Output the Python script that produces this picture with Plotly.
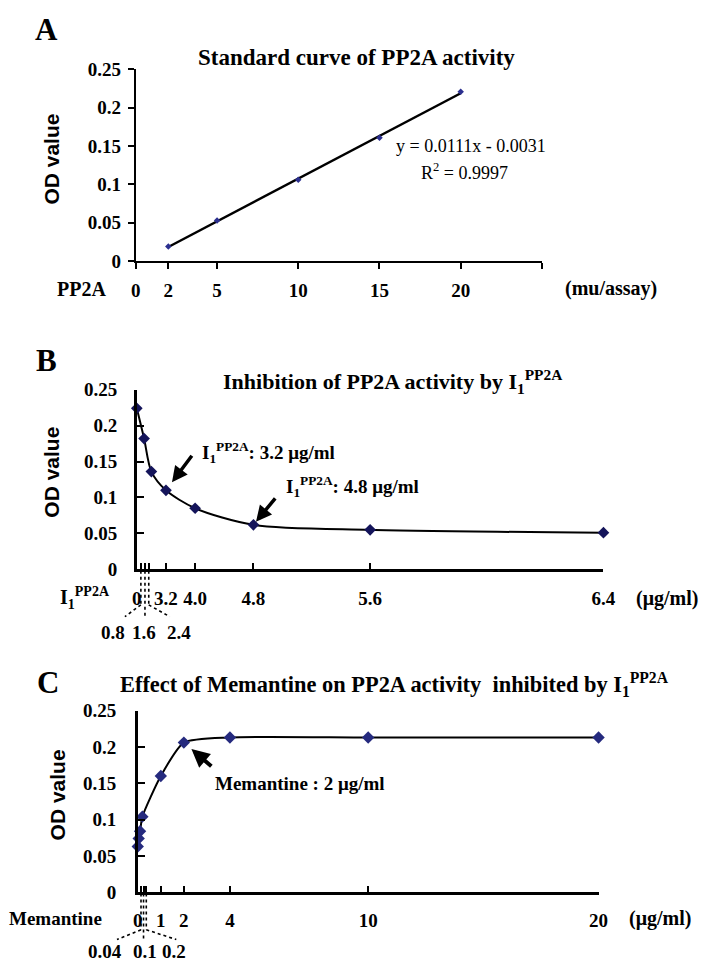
import numpy as np
import plotly.graph_objects as go

# ------------------------------------------------------------------ data
# Panel A: standard curve of PP2A activity
a_pp2a = [2, 5, 10, 15, 20]                       # mu/assay
a_od = [0.019, 0.053, 0.106, 0.161, 0.221]
a_tick_vals = [0, 2, 5, 10, 15, 20]
a_tick_text = ["0", "2", "5", "10", "15", "20"]
a_axis_end = [25]

# Panel B: inhibition of PP2A activity by I1PP2A (x in the chart's axis units)
b_x = [0, 0.25, 0.5, 1, 2, 4, 8, 16]
b_od = [0.224, 0.182, 0.136, 0.110, 0.085, 0.062, 0.055, 0.051]
b_tick_vals = [0, 1, 2, 4, 8, 16]
b_tick_text = ["0", "3.2", "4.0", "4.8", "5.6", "6.4"]
b_small_ticks = [0.14, 0.28, 0.41]
b_small_labels = ["0.8", "1.6", "2.4"]

# Panel C: effect of memantine (µg/ml)
c_mem = [0, 0.04, 0.1, 0.2, 1, 2, 4, 10, 20]
c_od = [0.063, 0.074, 0.084, 0.104, 0.160, 0.206, 0.213, 0.213, 0.213]
c_tick_vals = [0, 1, 2, 4, 10, 20]
c_tick_text = ["0", "1", "2", "4", "10", "20"]
c_small_ticks = [0.14, 0.25, 0.37]
c_small_labels = ["0.04", "0.1", "0.2"]

y_tick_vals = [0, 0.05, 0.1, 0.15, 0.2, 0.25]
y_tick_text = ["0", "0.05", "0.1", "0.15", "0.2", "0.25"]

# ------------------------------------------------------------------ layout helpers
W, H = 716, 975
SERIF = "Liberation Serif, Times New Roman, serif"
SANS = "Liberation Sans, Arial, sans-serif"


def px(p):
    return p / W


def py(p):
    return 1 - p / H


slope, intercept = np.polyfit(a_pp2a, a_od, 1)
fit_x = [min(a_pp2a), max(a_pp2a)]
fit_y = [slope * v + intercept for v in fit_x]

fig = go.Figure()
fig.add_trace(go.Scatter(x=fit_x, y=fit_y, mode="lines", line=dict(color="black", width=2.5),
                         xaxis="x", yaxis="y", showlegend=False))
fig.add_trace(go.Scatter(x=a_pp2a, y=a_od, mode="markers",
                         marker=dict(symbol="diamond", size=5, color="#2b2f8f"),
                         xaxis="x", yaxis="y", showlegend=False, cliponaxis=False))
fig.add_trace(go.Scatter(x=b_x, y=b_od, mode="lines+markers",
                         line=dict(color="black", width=2, shape="spline", smoothing=0.8),
                         marker=dict(symbol="diamond", size=9, color="#14145a"),
                         xaxis="x2", yaxis="y2", showlegend=False, cliponaxis=False))
fig.add_trace(go.Scatter(x=c_mem, y=c_od, mode="lines+markers",
                         line=dict(color="black", width=2, shape="spline", smoothing=0.6),
                         marker=dict(symbol="diamond", size=9.5, color="#252a7e"),
                         xaxis="x3", yaxis="y3", showlegend=False, cliponaxis=False))

tickfont = dict(family=SERIF, size=19, color="black", weight="bold")
common_x = dict(showline=True, linecolor="black", showgrid=False, zeroline=False,
                tickcolor="black", tickmode="array", tickfont=tickfont, fixedrange=True)
common_y = dict(showline=True, linecolor="black", showgrid=False, zeroline=False,
                tickcolor="black", range=[0, 0.25], tickmode="array",
                tickvals=y_tick_vals, ticktext=y_tick_text, tickfont=tickfont)


def minor(vals, side, ln):
    return dict(tickmode="array", tickvals=vals, ticks=side, ticklen=ln,
                tickwidth=2, tickcolor="black", showgrid=False)


fig.update_layout(
    width=W, height=H, autosize=False,
    margin=dict(l=0, r=0, t=0, b=0),
    paper_bgcolor="white", plot_bgcolor="white",
    xaxis=dict(common_x, domain=[px(134), px(550)], anchor="y", range=[0, 25],
               tickvals=a_tick_vals, ticktext=a_tick_text, ticks="outside", ticklen=6,
               tickwidth=2, linewidth=2.2, ticklabelstandoff=5,
               minor=minor(a_axis_end, "outside", 6)),
    yaxis=dict(common_y, domain=[py(256.7), py(60.7)], anchor="x", ticks="outside",
               ticklen=6, tickwidth=2, linewidth=2.2, ticklabelstandoff=3),
    xaxis2=dict(common_x, domain=[px(135), px(613)], anchor="y2", range=[0, 16],
                tickvals=b_tick_vals, ticktext=b_tick_text, ticks="inside", ticklen=7,
                tickwidth=2, linewidth=2.5, ticklabelstandoff=10,
                minor=minor(b_small_ticks, "inside", 7)),
    yaxis2=dict(common_y, domain=[py(571.7), py(388)], anchor="x2", ticks="inside",
                ticklen=7, tickwidth=2, linewidth=2.5, ticklabelstandoff=13),
    xaxis3=dict(common_x, domain=[px(136), px(608)], anchor="y3", range=[0, 20],
                tickvals=c_tick_vals, ticktext=c_tick_text, ticks="inside", ticklen=7,
                tickwidth=2, linewidth=2.5, ticklabelstandoff=9,
                minor=minor(c_small_ticks, "inside", 7)),
    yaxis3=dict(common_y, domain=[py(901.7), py(716)], anchor="x3", ticks="inside",
                ticklen=7, tickwidth=2, linewidth=2.5, ticklabelstandoff=15),
)

ann = []


def text(t, x, y, size=19, bold=True, family=SERIF, xanchor="center", angle=0):
    ann.append(dict(text=t, x=px(x), y=py(y), xref="paper", yref="paper",
                    showarrow=False, xanchor=xanchor, yanchor="middle", textangle=angle,
                    font=dict(family=family, size=size, color="black",
                              weight="bold" if bold else "normal")))


I1 = "I<sub>1</sub><sup>PP2A</sup>"

# panel letters
text("A", 43, 20, size=31)
text("B", 43, 358, size=31)
text("C", 44, 687, size=31)
# titles
text("Standard curve of PP2A activity", 360, 49, size=23)
text("Inhibition of PP2A activity by " + I1, 397, 380, size=22)
text("Effect of Memantine on PP2A activity  inhibited by " + I1, 399, 689, size=22.4)
# y titles
for yc, xc in [(152, 48), (472, 48), (802, 54)]:
    text("OD value", xc, yc, size=21, family=SANS, angle=-90)
# x side labels
text("PP2A", 78, 285, size=20)
text("(mu/assay)", 621, 285, size=20)
text(I1, 82, 601, size=20)
text("(μg/ml)", 678, 601, size=20)
text("Memantine", 52, 928, size=19)
text("(μg/ml)", 671, 929, size=20)
# equation
text("y = 0.0111x - 0.0031", 477, 139, size=18, bold=False)
text("R<sup>2</sup> = 0.9997", 471, 165, size=18, bold=False)
# small-tick labels below the axes
for lab, xc in zip(b_small_labels, [111, 142, 178]):
    text(lab, xc, 636, size=19)
for lab, xc in zip(c_small_labels, [102, 143, 173]):
    text(lab, xc, 962, size=19)
# callout texts
text(I1 + ": 3.2 μg/ml", 200, 452, size=19, xanchor="left")
text(I1 + ": 4.8 μg/ml", 286, 487, size=19, xanchor="left")
text("Memantine : 2 μg/ml", 213, 791, size=19, xanchor="left")

# callout arrows, pointing at data points
for xr, yr, xv, yv, axo, ayo, so, w in [
    ("x2", "y2", b_x[3], b_od[3], 27, -36, 10, 3.5),
    ("x2", "y2", b_x[5], b_od[5], 23, -28, 4, 3.5),
    ("x3", "y3", c_mem[5], c_od[5], 29, 25, 10, 4),
]:
    ann.append(dict(text="", x=xv, y=yv, xref=xr, yref=yr, ax=axo, ay=ayo,
                    showarrow=True, arrowhead=2, arrowsize=0.9, arrowwidth=w,
                    arrowcolor="black", standoff=so))

fig.update_layout(annotations=ann)

# dotted leader lines from the crowded ticks to their labels
shapes = []
dot = dict(color="black", width=1.6, dash="dot")


def leaders(xref, rng, ticks, y_axis, y_mid, y_end, dx_left, dx_right):
    for i, t in enumerate(ticks):
        bottom = y_end if i == 1 else y_mid
        shapes.append(dict(type="line", xref=xref, yref="paper", x0=t, x1=t,
                           y0=py(y_axis), y1=py(bottom), line=dot))
    for t, dx in [(ticks[0], dx_left), (ticks[2], dx_right)]:
        shapes.append(dict(type="line", xref=xref + " domain", yref="paper",
                           xsizemode="pixel", xanchor=t / rng, x0=0, x1=dx,
                           y0=py(y_mid), y1=py(y_end - 2), line=dot))


leaders("x2", 16, b_small_ticks, 573, 608, 622, -16, 21)
leaders("x3", 20, c_small_ticks, 903, 940, 952, -24, 30)
fig.update_layout(shapes=shapes)

fig.write_html(
    "out.html",
    config={"displayModeBar": False},
    post_script="document.body.style.margin='0px';document.body.style.overflow='hidden';",
)
